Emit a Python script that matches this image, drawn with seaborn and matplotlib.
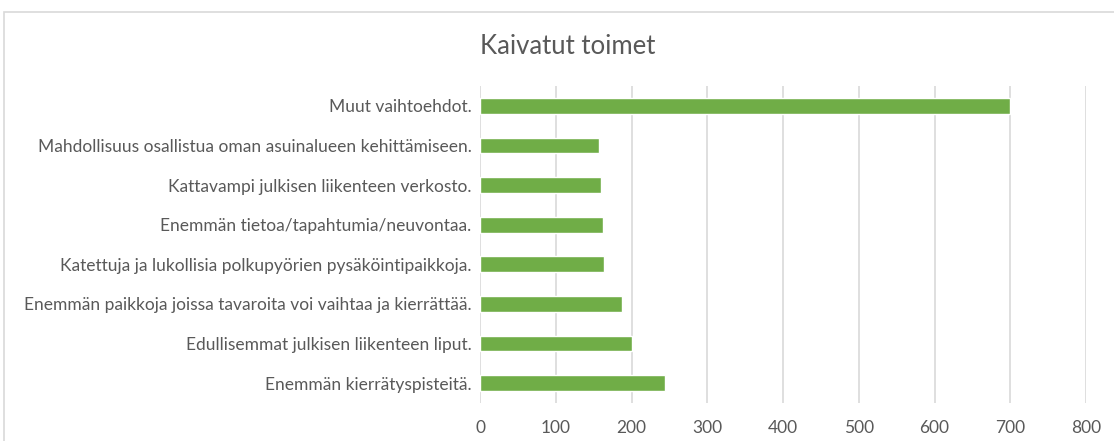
import matplotlib
matplotlib.use("Agg")
import matplotlib.pyplot as plt
import pandas as pd
import seaborn as sns
from matplotlib.patches import Rectangle

# data (top to bottom)
labels = [
    "Muut vaihtoehdot.",
    "Mahdollisuus osallistua oman asuinalueen kehittämiseen.",
    "Kattavampi julkisen liikenteen verkosto.",
    "Enemmän tietoa/tapahtumia/neuvontaa.",
    "Katettuja ja lukollisia polkupyörien pysäköintipaikkoja.",
    "Enemmän paikkoja joissa tavaroita voi vaihtaa ja kierrättää.",
    "Edullisemmat julkisen liikenteen liput.",
    "Enemmän kierrätyspisteitä.",
]
counts = [700, 157, 160, 163, 164, 188, 200, 244]
xticks = [0, 100, 200, 300, 400, 500, 600, 700, 800]

df = pd.DataFrame({"toimi": labels, "maara": counts})

sns.set_style("white")
plt.rcParams["font.family"] = ["Lato", "DejaVu Sans"]

grey = "#595959"
fig = plt.figure(figsize=(11.14, 4.41), dpi=100)
ax = fig.add_axes([480 / 1114, 1 - 403 / 441, 606 / 1114, 317 / 441])

sns.barplot(data=df, x="maara", y="toimi", color="#70ad47", width=0.4,
            saturation=1, ax=ax, zorder=3)

ax.set_xlim(0, 800)
ax.set_xticks(xticks)
ax.xaxis.grid(True, color="#d9d9d9", linewidth=1.2, zorder=0)
ax.set_xlabel("")
ax.set_ylabel("")
for s in ax.spines.values():
    s.set_visible(False)
ax.tick_params(axis="x", colors=grey, labelsize=12.5, length=0, pad=12)
ax.tick_params(axis="y", colors=grey, labelsize=12.5, length=0, pad=6)

fig.text(568 / 1114, 1 - 47 / 441, "Kaivatut toimet",
         ha="center", va="center", fontsize=18.5, color=grey)

# chart area border
fig.patches.append(Rectangle((4 / 1114, -0.1), 1.2, (441 - 12) / 441 + 0.1,
                             transform=fig.transFigure, fill=False,
                             edgecolor="#d9d9d9", linewidth=1.2))

fig.savefig("out.png", dpi=100)
